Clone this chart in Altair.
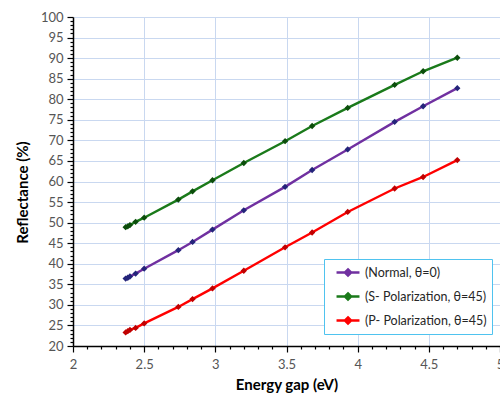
import altair as alt
import pandas as pd

energy = [2.37, 2.385, 2.40, 2.44, 2.50, 2.74, 2.84, 2.98, 3.20, 3.49, 3.68, 3.93, 4.26, 4.46, 4.70]
normal = [36.4, 36.6, 36.9, 37.6, 38.8, 43.3, 45.3, 48.3, 53.0, 58.7, 62.8, 67.8, 74.5, 78.3, 82.7]
s_pol = [48.9, 49.1, 49.4, 50.2, 51.2, 55.6, 57.6, 60.3, 64.5, 69.8, 73.5, 77.9, 83.5, 86.8, 90.1]
p_pol = [23.3, 23.6, 23.9, 24.4, 25.5, 29.5, 31.4, 34.0, 38.3, 44.0, 47.6, 52.6, 58.3, 61.1, 65.2]

series_names = ["(Normal, θ=0)", "(S- Polarization, θ=45)", "(P- Polarization, θ=45)"]
line_colors = ["#7030a0", "#1a7a1a", "#ff0000"]
marker_colors = ["#24247a", "#0b4d0b", "#c00000"]

x_ticks = [round(2 + 0.1 * i, 1) for i in range(31)]
y_ticks = list(range(20, 101))

rows = []
for name, vals in zip(series_names, [normal, s_pol, p_pol]):
    for e, v in zip(energy, vals):
        rows.append({"Energy": e, "Reflectance": v, "Series": name})
df = pd.DataFrame(rows)

FONT = "Lato"
XMAJ = "abs(datum.value*2 - round(datum.value*2)) < 0.01"
YMAJ = "datum.value % 5 == 0"

x_enc = alt.X(
    "Energy:Q",
    scale=alt.Scale(domain=[2, 5], nice=False, zero=False),
    axis=alt.Axis(
        title="Energy gap (eV)",
        values=x_ticks,
        tickCount=500,
        labelOverlap=False,
        labelFlush=False,
        labelExpr=XMAJ + " ? format(datum.value, '~g') : ''",
        tickSize={"condition": {"test": XMAJ, "value": 6}, "value": 3},
        gridOpacity={"condition": {"test": XMAJ, "value": 1}, "value": 0},
        labelPadding=6,
        titlePadding=6,
    ),
)
y_enc = alt.Y(
    "Reflectance:Q",
    scale=alt.Scale(domain=[20, 100], nice=False, zero=False),
    axis=alt.Axis(
        title="Reflectance (%)",
        values=y_ticks,
        tickCount=500,
        labelOverlap=False,
        labelFlush=False,
        labelExpr=YMAJ + " ? datum.value : ''",
        tickSize={"condition": {"test": YMAJ, "value": 6}, "value": 3},
        gridOpacity={"condition": {"test": YMAJ, "value": 1}, "value": 0},
        labelPadding=4,
        titlePadding=10,
        titleY=175,
    ),
)

lines = alt.Chart(df).mark_line(strokeWidth=2.4).encode(
    x=x_enc,
    y=y_enc,
    color=alt.Color(
        "Series:N",
        scale=alt.Scale(domain=series_names, range=line_colors),
        legend=alt.Legend(
            title=None,
            orient="none",
            legendX=251,
            legendY=242,
            symbolType="M-0.14,0L3.14,0M1.5,-0.45L1.95,0L1.5,0.45L1.05,0Z",
            symbolSize=196,
            symbolStrokeWidth=2.4,
            labelFont=FONT,
            labelFontSize=12.5,
            labelColor="#262626",
            fillColor="white",
            strokeColor="#4fc3ef",
            padding=5,
            rowPadding=7,
            labelOffset=19,
            cornerRadius=0,
        ),
    ),
)

points = alt.Chart(df).mark_point(shape="diamond", filled=True, size=40, opacity=1).encode(
    x="Energy:Q",
    y="Reflectance:Q",
    color=alt.Color("Series:N", scale=alt.Scale(domain=series_names, range=marker_colors), legend=None),
)

chart = (
    alt.layer(lines, points)
    .resolve_scale(color="independent")
    .properties(
        width=427,
        height=329,
        padding={"left": 73, "top": 17, "right": 0, "bottom": 50},
        autosize=alt.AutoSizeParams(type="none"),
    )
    .configure_view(stroke=None)
    .configure_axis(
        domainColor="black",
        domainWidth=1.5,
        tickColor="black",
        tickWidth=1.2,
        gridColor="#c9d8f0",
        gridWidth=1,
        labelFont=FONT,
        labelFontSize=13,
        labelColor="#555555",
        titleFont=FONT,
        titleFontSize=15,
        titleFontWeight="bold",
        titleColor="black",
    )
)

chart.save("out.html", embed_options={"renderer": "svg", "actions": False})
